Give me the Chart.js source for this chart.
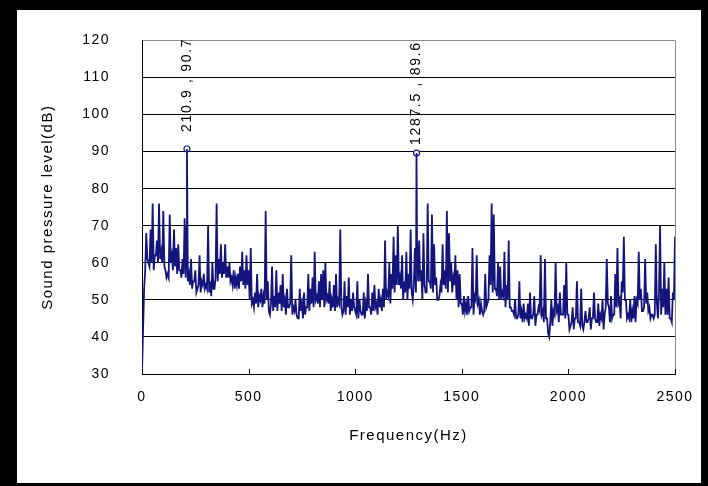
<!DOCTYPE html>
<html>
<head>
<title>Sound pressure spectrum</title>
<script src="https://cdn.jsdelivr.net/npm/chart.js@4.4.1/dist/chart.umd.min.js"></script>
<style>
  body { margin: 0; background: #000; }
  #wrap { width: 708px; height: 486px; }
</style>
</head>
<body>
<div id="wrap"><canvas id="spectrum"></canvas></div>
<script>
// sound pressure level (dB), readings every 10 Hz from 0 to 2500 Hz
const freqStep = 10;
const levels = [
  30, 53, 68, 60, 69, 76, 62, 66, 76, 63,
  74, 58, 57, 73, 62, 69, 64, 65, 58, 61,
  72, 70, 57, 61, 55, 58, 53, 62, 55, 57,
  54, 70, 55, 60, 53, 76, 61, 65, 60, 65,
  59, 60, 56, 58, 56, 57, 59, 63, 58,
  62, 58, 64, 50, 52, 57, 51, 53, 51, 74,
  55, 46, 59, 51, 58, 52, 54, 57, 50, 53,
  48, 62, 48, 50, 45, 53, 49, 52, 48, 57,
  53, 56, 63, 51, 55, 57, 58, 60, 51, 55,
  50, 54, 57, 50, 69, 46, 55, 51, 56, 50,
  52, 47, 55, 50, 46, 52, 49, 57, 48, 52,
  54, 49, 53, 50, 53, 66, 52, 60, 57, 67,
  62, 70, 56, 62, 55, 63, 57, 69, 50, 64,
  66, 66, 58, 68, 52, 76, 55, 73, 65, 56,
  50, 54, 65, 58, 74, 68, 60, 56, 62, 58,
  57, 49, 51, 49, 51, 48, 64, 51, 62, 50,
  49, 46, 57, 49, 62, 76, 73, 53, 60, 59,
  52, 63, 54, 66, 48, 47, 50, 45, 55, 47,
  49, 46, 49, 52, 45, 51, 46, 48, 62, 47,
  61, 45, 40, 50, 47, 60, 48, 52, 46, 54,
  60, 46, 43, 48, 45, 55, 44, 53, 42, 47,
  44, 48, 45, 52, 44, 49, 46, 50, 46, 61,
  48, 51, 46, 57, 64, 50, 55, 67, 50, 46,
  50, 47, 51, 50, 63, 53, 47, 61, 52, 48,
  46, 45, 65, 45, 70, 53, 60, 53, 56, 45,
  52, 67
];

// readings in between, at 5, 15, 25 ... 2495 Hz (lower edge of the band)
const levelsMid = [
  42, 58, 61, 59, 60, 58, 62, 60, 61, 60,
  59, 56, 56, 60, 58, 59, 57, 58, 56, 57,
  56, 55, 54, 53, 55, 52, 54, 52, 54, 53,
  53, 52, 51, 53, 56, 55, 57, 56, 57, 56,
  56, 55, 54, 53, 54, 53, 55, 54, 53, 54,
  50, 49, 48, 49, 48, 50, 48, 49, 50, 47,
  49, 47, 48, 47, 49, 47, 48, 46, 48, 49,
  46, 47, 46, 45, 47, 45, 46, 48, 47, 49,
  48, 50, 49, 48, 50, 48, 50, 49, 47, 48,
  47, 48, 49, 48, 47, 46, 48, 46, 47, 48,
  46, 45, 47, 46, 45, 47, 48, 46, 47, 48,
  46, 48, 47, 48, 50, 51, 49, 53, 52, 54,
  54, 53, 50, 52, 50, 53, 52, 54, 52, 55,
  55, 50, 54, 52, 55, 53, 52, 54, 50, 51,
  52, 54, 53, 52, 55, 52, 54, 50, 48, 49,
  46, 47, 46, 47, 48, 46, 50, 49, 46, 47,
  47, 48, 50, 54, 52, 53, 51, 50, 50, 51,
  48, 50, 48, 47, 46, 45, 46, 45, 44, 45,
  45, 43, 45, 46, 43, 46, 47, 46, 44, 45,
  41, 44, 43, 46, 47, 44, 46, 46, 45, 46,
  42, 44, 42, 45, 44, 43, 43, 44, 44, 45,
  42, 45, 45, 44, 43, 45, 42, 48, 49, 44,
  45, 46, 48, 49, 45, 52, 50, 45, 45, 44,
  45, 44, 49, 50, 47, 48, 49, 47, 45, 46,
  46, 49, 52, 46, 48, 46, 46, 45, 44, 50
];

// marked peaks
const peakFreqs = [210.9, 1287.5];
const peakLevels = [90.7, 89.6];

const xTicks = [0, 500, 1000, 1500, 2000, 2500];
const yTicks = [30, 40, 50, 60, 70, 80, 90, 100, 110, 120];

const lineColor = '#14147c';
const fontFamily = '"Liberation Sans", Arial, sans-serif';
const labelGap = [17, 8];

// line points: both reading grids plus the two peaks, sorted by frequency
const points = levels.map((v, i) => ({ x: i * freqStep, y: v }));
levelsMid.forEach((v, i) => points.push({ x: i * freqStep + freqStep / 2, y: v }));
peakFreqs.forEach((f, i) => points.push({ x: f, y: peakLevels[i] }));
points.sort((a, b) => a.x - b.x);

const peaks = peakFreqs.map((f, i) => ({ x: f, y: peakLevels[i] }));

const framePlugin = {
  id: 'frame',
  beforeDraw(chart) {
    const ctx = chart.ctx;
    ctx.save();
    ctx.fillStyle = '#000';
    ctx.fillRect(0, 0, chart.width, chart.height);
    ctx.fillStyle = '#fff';
    ctx.fillRect(17, 10, 684, 473);
    ctx.restore();
    ctx.letterSpacing = '1.5px';
  },
  afterDraw(chart) {
    const ctx = chart.ctx;
    const a = chart.chartArea;
    const xs = chart.scales.x;
    const ys = chart.scales.y;
    ctx.save();
    // gray right border of the plot
    ctx.strokeStyle = '#8c8c8c';
    ctx.lineWidth = 1;
    ctx.beginPath();
    ctx.moveTo(Math.round(a.right) + 0.5, a.top);
    ctx.lineTo(Math.round(a.right) + 0.5, a.bottom);
    ctx.stroke();
    // inward tick marks on the x axis
    ctx.strokeStyle = '#000';
    ctx.beginPath();
    xTicks.forEach(v => {
      const px = Math.round(xs.getPixelForValue(v)) + 0.5;
      ctx.moveTo(px, a.bottom);
      ctx.lineTo(px, a.bottom - 5);
    });
    ctx.stroke();
    // peak labels, rotated
    ctx.fillStyle = '#000';
    ctx.font = '14px ' + fontFamily;
    ctx.letterSpacing = '1.7px';
    ctx.textAlign = 'left';
    ctx.textBaseline = 'middle';
    peaks.forEach((p, i) => {
      const px = xs.getPixelForValue(p.x);
      const py = ys.getPixelForValue(p.y);
      ctx.save();
      ctx.translate(px, py - labelGap[i]);
      ctx.rotate(-Math.PI / 2);
      ctx.fillText(p.x.toFixed(1) + ' , ' + p.y.toFixed(1), 0, 0);
      ctx.restore();
    });
    ctx.restore();
  }
};

new Chart(document.getElementById('spectrum'), {
  type: 'line',
  data: {
    datasets: [
      {
        data: points,
        borderColor: lineColor,
        borderWidth: 1.8,
        pointRadius: 0,
        tension: 0,
        fill: false
      },
      {
        type: 'scatter',
        data: peaks,
        borderColor: lineColor,
        backgroundColor: '#fff',
        borderWidth: 1.2,
        pointRadius: 3,
        pointStyle: 'circle'
      }
    ]
  },
  options: {
    responsive: true,
    maintainAspectRatio: false,
    animation: false,
    layout: { padding: { left: 17, top: 29, right: 33, bottom: 0 } },
    plugins: {
      legend: { display: false },
      tooltip: { enabled: false }
    },
    scales: {
      x: {
        type: 'linear',
        min: 0,
        max: 2500,
        afterBuildTicks: s => { s.ticks = xTicks.map(v => ({ value: v })); },
        afterFit: s => { s.height = 112; },
        grid: { drawOnChartArea: false, drawTicks: false },
        border: { color: '#000', width: 1 },
        ticks: {
          color: '#000',
          padding: 15,
          maxRotation: 0,
          font: { family: fontFamily, size: 14 },
          callback: v => String(v)
        },
        title: {
          display: true,
          text: 'Frequency(Hz)',
          color: '#000',
          font: { family: fontFamily, size: 15, lineHeight: 1.2 },
          padding: { bottom: 41 }
        }
      },
      y: {
        type: 'linear',
        min: 30,
        max: 120,
        afterBuildTicks: s => { s.ticks = yTicks.map(v => ({ value: v })); },
        afterFit: s => { s.width = 125; },
        grid: {
          color: c => (c.tick && c.tick.value === 120 ? '#8c8c8c' : '#000'),
          lineWidth: 1,
          drawTicks: false
        },
        border: { color: '#000', width: 1 },
        ticks: { color: '#000', padding: 32, font: { family: fontFamily, size: 14 } },
        title: {
          display: true,
          text: 'Sound pressure level(dB)',
          color: '#000',
          font: { family: fontFamily, size: 15, lineHeight: 1.2 },
          padding: { top: 22 }
        }
      }
    }
  },
  plugins: [framePlugin]
});
</script>
</body>
</html>
